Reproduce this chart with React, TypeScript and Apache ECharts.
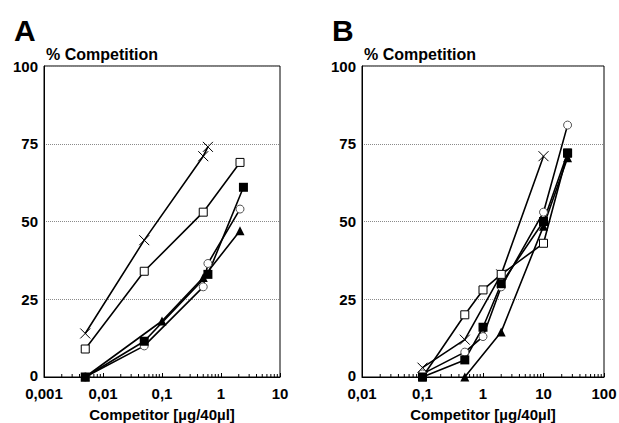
import React, { useEffect, useRef } from "react";
import * as echarts from "echarts";

// Panel A (x: µg/40µl, y: % competition)
const aCross = [[0.005, 14], [0.05, 44], [0.5, 71], [0.6, 74]];
const aOpenSquare = [[0.005, 9], [0.05, 34], [0.5, 53], [2.1, 69]];
const aFilledSquare = [[0.005, 0], [0.05, 11.5], [0.6, 33], [2.4, 61]];
const aCircle = [[0.005, 0], [0.05, 10], [0.5, 29], [0.6, 36.5], [2.1, 54]];
const aTriangle = [[0.005, 0], [0.1, 18], [0.5, 32], [2.1, 47]];

// Panel B
const bCross = [[0.1, 3], [0.5, 12], [2, 33], [10, 71]];
const bOpenSquare = [[0.1, 0], [0.5, 20], [1, 28], [2, 33], [10, 43], [25, 72]];
const bCircle = [[0.1, 1], [0.5, 8], [1, 13], [2, 29], [10, 53], [25, 81]];
const bFilledSquare = [[0.1, 0], [0.5, 5.5], [1, 16], [2, 30], [10, 50], [25, 72]];
const bTriangle = [[0.5, 0], [2, 14.5], [10, 48.5], [25, 70.5]];

const xLabelsA = ["0,001", "0,01", "0,1", "1", "10"];
const xLabelsB = ["0,01", "0,1", "1", "10", "100"];
const yTicks = [0, 25, 50, 75, 100];
const minorMultipliers = [2, 3, 4, 5, 6, 7, 8, 9];
const decadesA = [0.001, 0.01, 0.1, 1];
const decadesB = [0.01, 0.1, 1, 10];

const FONT = "'Liberation Sans', Arial, Helvetica, sans-serif";

function minorTicks(decades: number[]) {
  const out: number[][] = [];
  decades.forEach((d) => minorMultipliers.forEach((m) => out.push([d * m, 0])));
  return out;
}

const crossPath = "path://M0,0L10,10M10,0L0,10";

export default function App() {
  const ref = useRef<HTMLDivElement>(null);
  useEffect(() => {
    if (!ref.current) return;
    const chart = echarts.init(ref.current, null, { renderer: "svg" });

    const mkX = (idx: number, min: number, max: number, labels: string[]) => ({
      type: "log",
      logBase: 10,
      gridIndex: idx,
      min,
      max,
      name: "Competitor [µg/40µl]",
      nameLocation: "middle",
      nameGap: 30,
      nameTextStyle: { fontFamily: FONT, fontWeight: "bold", fontSize: 15, color: "#000" },
      axisLine: { lineStyle: { color: "#000", width: 1 } },
      axisTick: { show: true, inside: true, length: 4, lineStyle: { color: "#000" } },
      axisLabel: {
        fontFamily: FONT,
        fontWeight: "bold",
        fontSize: 15,
        lineHeight: 14,
        color: "#000",
        margin: 9,
        formatter: (v: number) => {
          const e = Math.round(Math.log10(v) - Math.log10(min));
          return labels[e] ?? "";
        },
      },
      splitLine: { show: false },
    });

    const yLabelStyle = { fontFamily: FONT, fontWeight: "bold", fontSize: 15, lineHeight: 12, color: "#000" };

    const mkY = (idx: number) => ({
      type: "value",
      gridIndex: idx,
      min: 0,
      max: 100,
      interval: 25,
      name: "% Competition",
      nameLocation: "end",
      nameGap: 4,
      nameTextStyle: { fontFamily: FONT, fontWeight: "bold", fontSize: 16, color: "#000", align: "left", padding: [0, 0, 0, 2] },
      axisLine: { show: true, lineStyle: { color: "#000", width: 1 } },
      axisTick: { show: false },
      axisLabel: {
        ...yLabelStyle,
        margin: 6,
        formatter: (v: number) => (v === 0 ? "{z|0}" : yTicks.includes(v) ? String(v) : ""),
        rich: { z: { ...yLabelStyle, padding: [0, 0, 4, 0] } },
      },
      splitLine: { show: true, lineStyle: { color: "#8a8a8a", type: "dotted", width: 1 } },
    });

    const lineBase = (idx: number) => ({
      type: "line",
      xAxisIndex: idx,
      yAxisIndex: idx,
      lineStyle: { color: "#000", width: 1.6 },
      z: 3,
    });

    const openStyle = { color: "#fff", borderColor: "#000", borderWidth: 1 };
    const circleStyle = { color: "#fff", borderColor: "#555", borderWidth: 1 };
    const filled = { color: "#000", borderColor: "#000", borderWidth: 0 };

    const seriesFor = (idx: number, cross: number[][], osq: number[][], fsq: number[][], circ: number[][], tri: number[][]) => [
      { ...lineBase(idx), data: cross, symbol: crossPath, symbolSize: 10, itemStyle: { color: "#000", borderColor: "#000", borderWidth: 1 } },
      { ...lineBase(idx), data: osq, symbol: "rect", symbolSize: 8, itemStyle: openStyle },
      { ...lineBase(idx), data: circ, symbol: "circle", symbolSize: 8, itemStyle: circleStyle },
      { ...lineBase(idx), data: fsq, symbol: "rect", symbolSize: 9, itemStyle: filled },
      { ...lineBase(idx), data: tri, symbol: "triangle", symbolSize: 9, itemStyle: filled },
      {
        type: "custom",
        xAxisIndex: idx,
        yAxisIndex: idx,
        silent: true,
        z: 2,
        data: minorTicks(idx === 0 ? decadesA : decadesB),
        renderItem: (_p: any, api: any) => {
          const pt = api.coord([api.value(0), 0]);
          return {
            type: "line",
            shape: { x1: pt[0], y1: pt[1], x2: pt[0], y2: pt[1] - 3 },
            style: { stroke: "#000", lineWidth: 1 },
          };
        },
      },
    ];

    chart.setOption({
      animation: false,
      backgroundColor: "#fff",
      title: [
        { text: "A", left: 9, top: 10, textStyle: { fontFamily: FONT, fontWeight: "bold", fontSize: 30, color: "#000" } },
        { text: "B", left: 327, top: 10, textStyle: { fontFamily: FONT, fontWeight: "bold", fontSize: 30, color: "#000" } },
      ],
      grid: [
        { left: 44, top: 66, width: 236, height: 311, containLabel: false, outerBoundsMode: "none", show: true, borderColor: "#000", borderWidth: 1, backgroundColor: "transparent" },
        { left: 362, top: 66, width: 242, height: 311, containLabel: false, outerBoundsMode: "none", show: true, borderColor: "#000", borderWidth: 1, backgroundColor: "transparent" },
      ],
      xAxis: [mkX(0, 0.001, 10, xLabelsA), mkX(1, 0.01, 100, xLabelsB)],
      yAxis: [mkY(0), mkY(1)],
      series: [
        ...seriesFor(0, aCross, aOpenSquare, aFilledSquare, aCircle, aTriangle),
        ...seriesFor(1, bCross, bOpenSquare, bFilledSquare, bCircle, bTriangle),
      ],
    });
    return () => chart.dispose();
  }, []);
  return <div ref={ref} style={{ width: 619, height: 423, position: "absolute", left: 0, top: 0 }} />;
}
